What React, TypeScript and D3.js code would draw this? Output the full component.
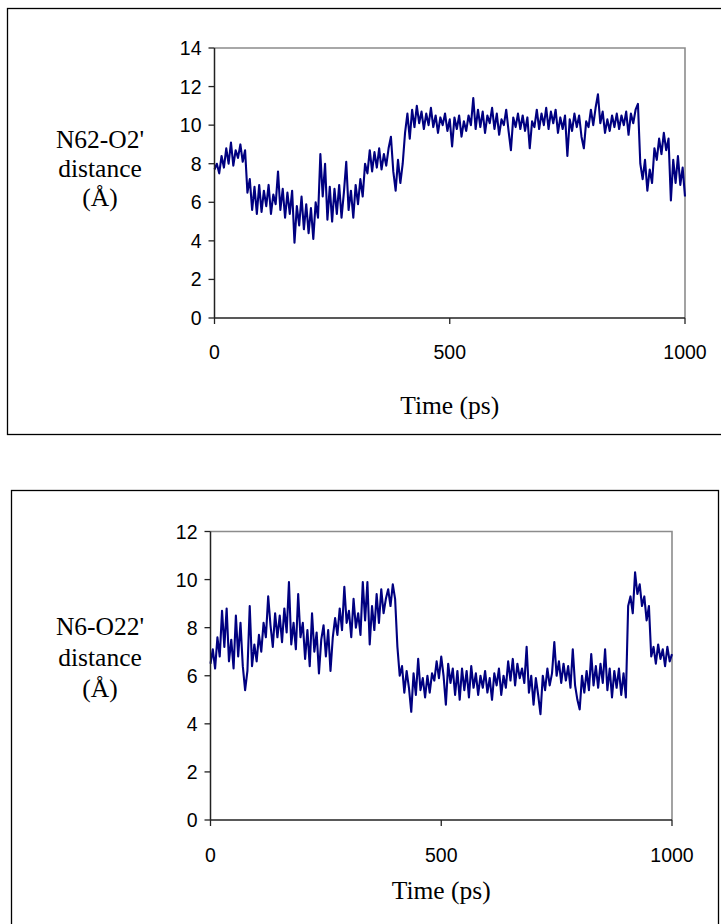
import React from "react";
import * as d3 from "d3";

// Time axis: one sample every 5 ps from 0 to 1000 ps
const timeStep = 5;
const xTicks = [0, 500, 1000];
const yTicksTop = [0, 2, 4, 6, 8, 10, 12, 14];
const yTicksBottom = [0, 2, 4, 6, 8, 10, 12];
const labelTop = ["N62-O2'", "distance", "(Å)"];
const labelBottom = ["N6-O22'", "distance", "(Å)"];
const xTitle = "Time (ps)";

// N62-O2' distance (Å)
const n62o2 = [
  7.7, 8.0, 7.5, 8.4, 7.8, 8.8, 8.0, 9.1, 7.9, 8.7,
  8.3, 9.0, 8.1, 8.7, 6.5, 7.2, 5.6, 6.8, 5.4, 6.9,
  5.5, 6.6, 5.8, 6.9, 5.4, 6.4, 5.9, 7.6, 5.6, 6.7,
  5.2, 6.5, 5.4, 6.6, 3.9, 5.8, 4.8, 6.3, 4.6, 5.9,
  4.4, 5.7, 4.1, 6.0, 5.2, 8.5, 6.3, 8.0, 5.1, 6.8,
  5.0, 6.7, 5.4, 6.9, 5.2, 6.5, 8.1, 5.6, 6.6, 5.2,
  6.9, 5.9, 7.2, 6.3, 8.0, 7.5, 8.7, 7.6, 8.6, 7.8,
  8.8, 7.7, 8.5, 7.9, 8.8, 9.4, 7.6, 6.6, 8.2, 7.0,
  8.0, 9.6, 10.6, 9.3, 10.8, 9.9, 11.0, 10.1, 10.7, 9.8,
  10.6, 10.0, 10.9, 9.9, 10.5, 9.6, 10.4, 10.0, 10.6, 9.7,
  10.3, 8.9, 10.4, 9.8, 10.5, 9.4, 10.2, 9.7, 10.5, 10.0,
  11.4, 9.8, 10.8, 9.9, 10.7, 9.6, 10.5, 10.1, 10.9, 9.8,
  10.6, 9.5, 10.3, 10.0, 10.8, 9.7, 8.7, 10.4, 9.9, 10.6,
  9.8, 10.5, 9.7, 10.4, 8.8, 10.2, 9.9, 10.8, 9.8, 10.6,
  10.0, 10.9, 9.8, 10.7, 10.1, 10.8, 9.6, 10.4, 9.8, 10.5,
  8.4, 10.3, 9.7, 10.6, 9.9, 10.5, 9.4, 8.8, 10.2, 9.9,
  10.8, 10.0, 10.9, 11.6, 10.1, 10.7, 9.6, 10.3, 9.7, 10.5,
  9.9, 10.6, 9.8, 10.5, 10.0, 10.7, 9.5, 10.6, 10.1, 10.8,
  11.1, 8.0, 7.2, 8.2, 6.6, 7.7, 7.0, 8.8, 8.2, 9.3,
  8.5, 9.6, 8.7, 9.3, 6.1, 8.2, 7.0, 8.4, 6.9, 7.8,
  6.3,
];

// N6-O22' distance (Å)
const n6o22 = [
  6.5, 7.1, 6.3, 7.6, 6.8, 8.7, 7.2, 8.8, 6.6, 7.5,
  6.3, 8.5, 6.8, 8.2, 6.4, 5.4, 6.2, 8.9, 6.4, 7.3,
  6.6, 7.7, 7.0, 8.2, 7.6, 9.3, 8.1, 7.2, 8.6, 7.6,
  8.5, 7.4, 8.8, 7.8, 9.9, 7.3, 8.2, 7.1, 9.4, 7.6,
  8.2, 6.7, 7.9, 6.4, 8.6, 7.0, 7.8, 6.1, 7.5, 8.1,
  6.8, 7.9, 6.2, 7.6, 8.4, 7.7, 8.8, 7.9, 9.7, 8.2,
  8.7, 7.6, 9.2, 8.0, 8.6, 7.7, 9.9, 8.3, 9.9, 7.3,
  8.9, 7.9, 9.4, 8.2, 9.6, 8.6, 9.2, 9.6, 8.9, 9.8,
  9.2, 7.2, 6.0, 6.4, 5.3, 6.2, 5.5, 4.5, 6.1, 5.2,
  6.7, 5.4, 5.9, 5.1, 6.0, 5.3, 6.1, 5.8, 6.6, 5.9,
  6.8, 6.0, 4.8, 6.5, 5.7, 6.3, 5.2, 6.2, 5.0, 6.3,
  5.4, 6.2, 5.1, 6.4, 5.5, 6.1, 5.2, 6.0, 5.5, 6.2,
  5.3, 5.9, 5.0, 6.1, 5.6, 6.3, 5.2, 6.0, 5.5, 6.6,
  5.8, 6.7, 5.6, 6.5, 5.9, 6.3, 5.7, 7.2, 5.3, 6.0,
  4.8, 5.9, 5.2, 4.4, 6.0, 5.4, 6.3, 5.6, 6.1, 7.4,
  6.0, 6.6, 5.7, 6.5, 5.8, 6.4, 5.5, 7.1, 5.6, 5.0,
  4.6, 6.0, 5.3, 6.2, 5.4, 6.9, 5.6, 6.4, 5.5, 6.5,
  5.7, 7.1, 5.4, 6.3, 5.1, 6.2, 5.5, 6.3, 5.2, 6.1,
  5.1, 8.9, 9.3, 8.6, 10.3, 9.4, 9.8, 8.9, 9.3, 8.3,
  8.9, 6.8, 7.2, 6.5, 7.3, 6.7, 7.1, 6.4, 7.2, 6.6,
  6.9,
];

type PanelProps = {
  values: number[];
  yTicks: number[];
  yLabel: string[];
  box: { x: number; y: number; w: number; h: number };
  plot: { l: number; r: number; t: number; b: number };
  labelBaselines: number[];
  xTickBaseline: number;
  titleBaseline: number;
};

function Panel({ values, yTicks, yLabel, box, plot, labelBaselines, xTickBaseline, titleBaseline }: PanelProps) {
  const x = d3.scaleLinear().domain([0, 1000]).range([plot.l, plot.r]);
  const y = d3
    .scaleLinear()
    .domain([0, d3.max(yTicks) as number])
    .range([plot.b, plot.t]);
  const line = d3
    .line<number>()
    .x((_, i) => x(i * timeStep))
    .y((d) => y(d));
  const tickFont = "'Liberation Sans', Arial, sans-serif";
  const serif = "'Liberation Serif', 'Times New Roman', serif";
  return (
    <g>
      <rect x={box.x} y={box.y} width={box.w} height={box.h} fill="#fff" stroke="#000" strokeWidth={1.3} />
      {/* plot-area frame (top and right in grey) */}
      <path
        d={`M${plot.l},${plot.t}H${plot.r}V${plot.b}`}
        fill="none"
        stroke="#8c8c8c"
        strokeWidth={1.6}
      />
      <path d={line(values) || ""} fill="none" stroke="#000080" strokeWidth={2.1} strokeLinejoin="round" />
      {/* axes */}
      <line x1={plot.l} x2={plot.l} y1={plot.t} y2={plot.b} stroke="#222" strokeWidth={1.5} />
      <line x1={plot.l} x2={plot.r} y1={plot.b} y2={plot.b} stroke="#222" strokeWidth={1.5} />
      {yTicks.map((t) => (
        <g key={"y" + t}>
          <line x1={plot.l - 6} x2={plot.l} y1={y(t)} y2={y(t)} stroke="#222" strokeWidth={1.3} />
          <text
            x={plot.l - 13}
            y={y(t)}
            dy="0.36em"
            textAnchor="end"
            fontFamily={tickFont}
            fontSize={19.5}
            fill="#000"
          >
            {t}
          </text>
        </g>
      ))}
      {xTicks.map((t) => (
        <g key={"x" + t}>
          <line x1={x(t)} x2={x(t)} y1={plot.b} y2={plot.b + 6} stroke="#222" strokeWidth={1.3} />
          <text x={x(t)} y={xTickBaseline} textAnchor="middle" fontFamily={tickFont} fontSize={19.5} fill="#000">
            {t}
          </text>
        </g>
      ))}
      {yLabel.map((s, i) => (
        <text key={s} x={100} y={labelBaselines[i]} textAnchor="middle" fontFamily={serif} fontSize={25.5} fill="#000">
          {s}
        </text>
      ))}
      <text
        x={(plot.l + plot.r) / 2}
        y={titleBaseline}
        textAnchor="middle"
        fontFamily={serif}
        fontSize={25.5}
        fill="#000"
      >
        {xTitle}
      </text>
    </g>
  );
}

export default function App() {
  return (
    <svg
      width={721}
      height={924}
      style={{ position: "absolute", left: 0, top: 0, background: "#fff" }}
    >
      <rect x={0} y={0} width={721} height={924} fill="#fff" />
      <Panel
        values={n62o2}
        yTicks={yTicksTop}
        yLabel={labelTop}
        box={{ x: 7.5, y: 8.5, w: 720, h: 426 }}
        plot={{ l: 214.5, r: 685, t: 48, b: 318 }}
        labelBaselines={[148, 177, 206]}
        xTickBaseline={359}
        titleBaseline={414}
      />
      <Panel
        values={n6o22}
        yTicks={yTicksBottom}
        yLabel={labelBottom}
        box={{ x: 11.5, y: 490.5, w: 707, h: 440 }}
        plot={{ l: 210.5, r: 672, t: 531.5, b: 820 }}
        labelBaselines={[635, 666, 697]}
        xTickBaseline={862}
        titleBaseline={899}
      />
    </svg>
  );
}
